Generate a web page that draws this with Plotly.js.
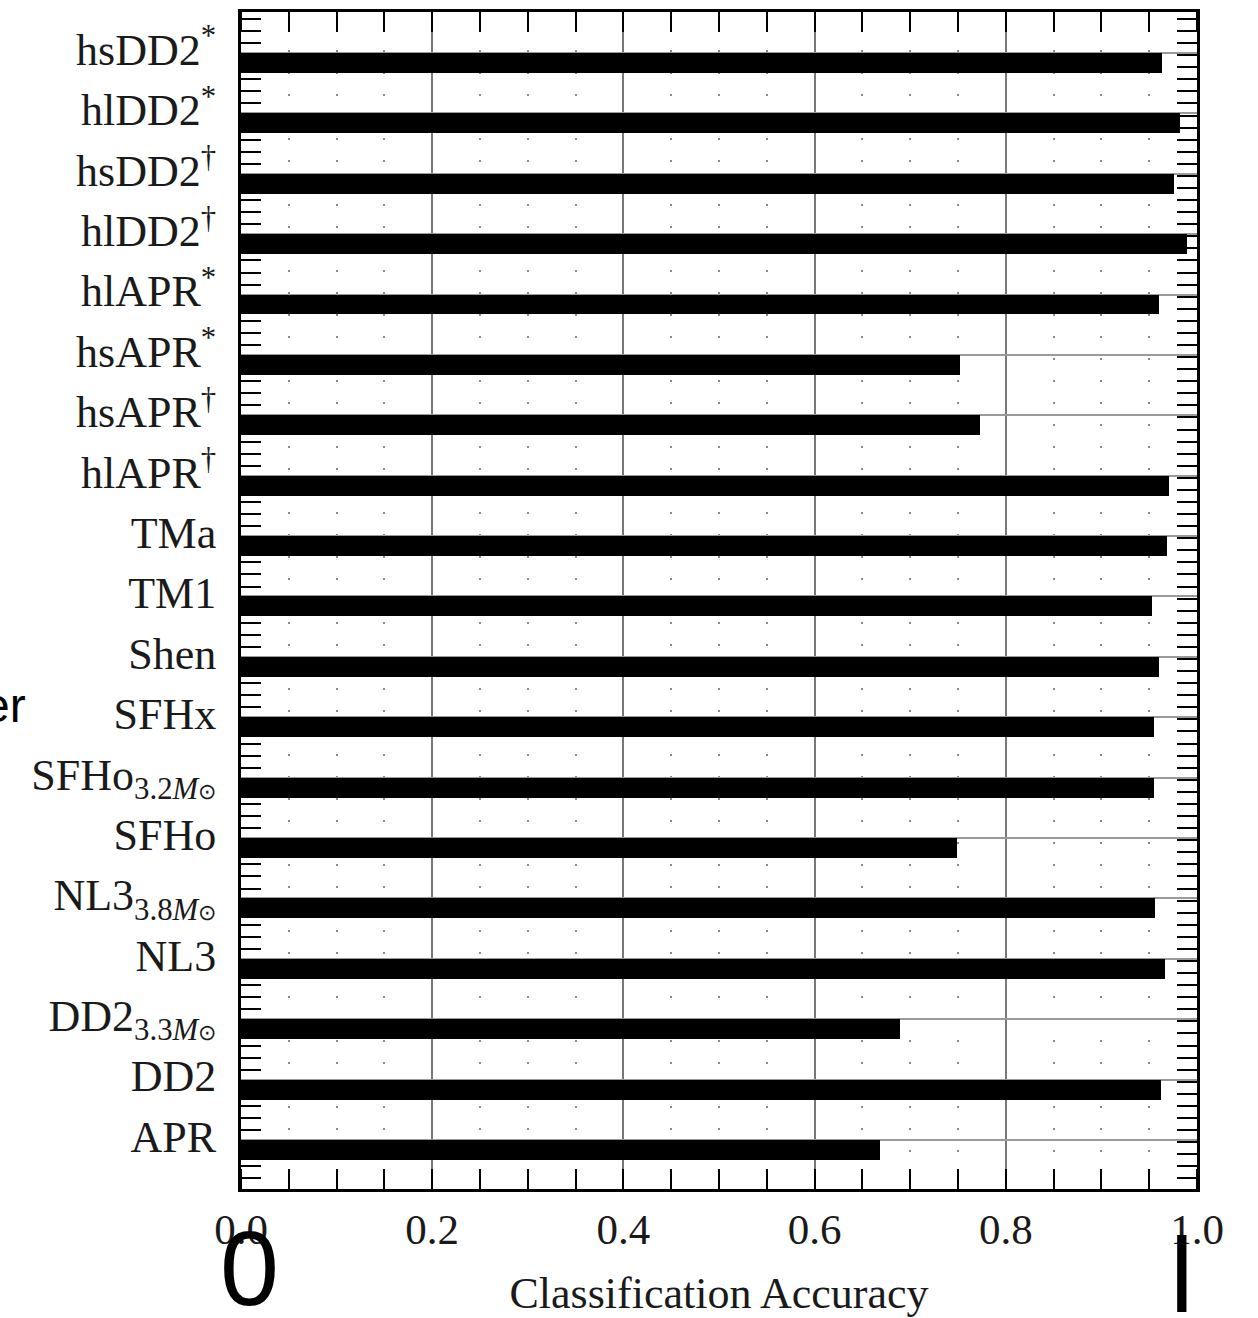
<!DOCTYPE html>
<html>
<head>
<meta charset="utf-8">
<script src="https://cdn.plot.ly/plotly-3.0.1.min.js"></script>
<style>
  html, body { margin: 0; padding: 0; background: #ffffff; }
  #chart { width: 1258px; height: 1318px; }
</style>
</head>
<body>
<div id="chart"></div>
<script>
// Categories, listed top to bottom as in the figure
const categories = [
  'hsDD2<sup>*</sup>', 'hlDD2<sup>*</sup>', 'hsDD2<sup>†</sup>', 'hlDD2<sup>†</sup>',
  'hlAPR<sup>*</sup>', 'hsAPR<sup>*</sup>', 'hsAPR<sup>†</sup>', 'hlAPR<sup>†</sup>',
  'TMa', 'TM1', 'Shen', 'SFHx',
  'SFHo<sub>3.2<i>M</i><span style="font-size:22px">⊙</span></sub>', 'SFHo',
  'NL3<sub>3.8<i>M</i><span style="font-size:22px">⊙</span></sub>', 'NL3',
  'DD2<sub>3.3<i>M</i><span style="font-size:22px">⊙</span></sub>', 'DD2', 'APR'
];
// Classification accuracy per equation of state
const accuracy = [
  0.963, 0.982, 0.976, 0.990,
  0.960, 0.752, 0.773, 0.971,
  0.969, 0.953, 0.960, 0.955,
  0.955, 0.749,
  0.956, 0.967,
  0.689, 0.962, 0.668
];
const xTickValues = [0, 0.2, 0.4, 0.6, 0.8, 1.0];
const xTickLabels = ['0.0', '0.2', '0.4', '0.6', '0.8', '1.0'];

const serif = 'Liberation Serif, Times New Roman, serif';
const yRange = [18.87, -0.62];
const barShift = 0.058;

const traces = [
  {
    type: 'bar',
    orientation: 'h',
    x: accuracy,
    y: categories,
    width: 0.331,
    offset: barShift,
    marker: { color: '#000000', line: { width: 0 } },
    hoverinfo: 'x+y',
    showlegend: false
  },
  {
    type: 'scatter',
    mode: 'markers',
    x: [],
    y: [],
    yaxis: 'y2',
    showlegend: false,
    hoverinfo: 'skip'
  },
  {
    type: 'scatter',
    mode: 'markers',
    x: [],
    y: [],
    yaxis: 'y3',
    showlegend: false,
    hoverinfo: 'skip'
  }
];

const layout = {
  width: 1258,
  height: 1318,
  margin: { l: 241, r: 61, t: 12, b: 129, pad: 0 },
  paper_bgcolor: '#ffffff',
  plot_bgcolor: '#ffffff',
  showlegend: false,
  bargap: 0,
  font: { family: serif, color: '#1a1a1a', size: 40 },
  xaxis: {
    range: [0, 1],
    tickvals: xTickValues,
    ticktext: xTickLabels,
    ticks: '',
    showgrid: true,
    gridcolor: '#777777',
    gridwidth: 2,
    zeroline: false,
    showline: true,
    linecolor: '#000000',
    linewidth: 3,
    mirror: 'allticks',
    layer: 'below traces',
    tickfont: { family: serif, size: 43, color: '#1a1a1a' },
    ticklabelstandoff: 0,
    minor: {
      dtick: 0.05,
      tick0: 0,
      ticks: 'inside',
      ticklen: 20,
      tickwidth: 2,
      tickcolor: '#000000',
      showgrid: true,
      gridcolor: '#8a8a8a',
      gridwidth: 2,
      griddash: '0px,16px,2px,4px'
    },
    title: {
      text: 'Classification Accuracy',
      font: { family: serif, size: 44, color: '#1a1a1a' },
      standoff: 30
    },
    fixedrange: true
  },
  yaxis: {
    type: 'category',
    categoryorder: 'array',
    categoryarray: categories,
    range: yRange,
    ticks: '',
    showgrid: false,
    zeroline: false,
    showline: true,
    linecolor: '#000000',
    linewidth: 3,
    mirror: true,
    layer: 'below traces',
    tickfont: { family: serif, size: 44, color: '#1a1a1a' },
    ticklabelstandoff: 13,
    fixedrange: true
  },
  yaxis2: {
    overlaying: 'y',
    anchor: 'x',
    side: 'left',
    range: yRange,
    tick0: 0.094,
    dtick: 0.2,
    ticks: 'inside',
    ticklen: 20,
    tickwidth: 2,
    tickcolor: '#000000',
    mirror: 'allticks',
    showline: false,
    showticklabels: false,
    showgrid: false,
    zeroline: false,
    layer: 'below traces',
    fixedrange: true
  },
  yaxis3: {
    overlaying: 'y',
    anchor: 'x',
    side: 'left',
    range: yRange,
    tick0: barShift,
    dtick: 1,
    ticks: '',
    showline: false,
    showticklabels: false,
    showgrid: true,
    gridcolor: '#9a9a9a',
    gridwidth: 2,
    zeroline: false,
    layer: 'below traces',
    fixedrange: true
  },
  annotations: [
    {
      xref: 'paper', yref: 'paper',
      x: (28 - 241) / 956, y: (1189 - 705) / 1177,
      xanchor: 'right', yanchor: 'middle',
      text: 'er', showarrow: false,
      font: { family: 'Liberation Sans, Arial, sans-serif', size: 48, color: '#000000' }
    },
    {
      xref: 'paper', yref: 'paper',
      x: (249 - 241) / 956, y: (1189 - 1268) / 1177,
      xanchor: 'center', yanchor: 'middle',
      text: '0', showarrow: false,
      font: { family: 'Liberation Sans, Arial, sans-serif', size: 106, color: '#000000' }
    },
    {
      xref: 'paper', yref: 'paper',
      x: (1182 - 241) / 956, y: (1189 - 1275) / 1177,
      xanchor: 'center', yanchor: 'middle',
      text: 'l', showarrow: false,
      font: { family: 'Liberation Sans, Arial, sans-serif', size: 106, color: '#000000' }
    }
  ]
};

Plotly.newPlot('chart', traces, layout, { displayModeBar: false, staticPlot: true });
</script>
</body>
</html>
